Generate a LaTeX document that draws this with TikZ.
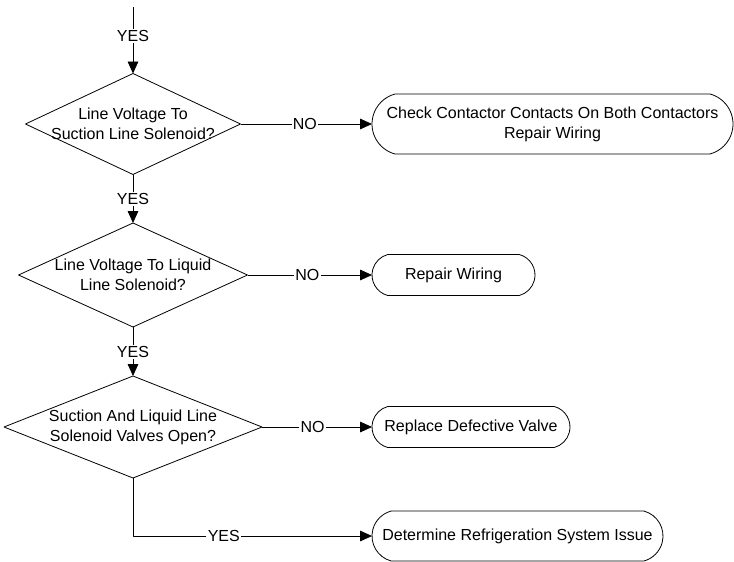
\documentclass[tikz,border=0pt]{standalone}
\usepackage{fontspec}
\setmainfont{Liberation Sans}
\usetikzlibrary{arrows.meta,shapes.geometric,shapes.misc}

\newcommand{\pxu}{.75pt}

\begin{document}
\begin{tikzpicture}[>={Triangle[length=9pt,width=8pt]}, line join=round, x=.75pt, y=-.75pt,
  every node/.style={font=\fontsize{12}{15}\selectfont},
  decision/.style={draw, diamond, inner sep=0pt, outer sep=0pt},
  action/.style={draw, rounded rectangle, rounded rectangle arc length=150,
    align=center, inner xsep=0pt, outer sep=0pt},
  lbl/.style={fill=white, inner sep=1pt},
  line width=.6pt]

\useasboundingbox (0,0) rectangle (734,561);

% Rombi
\node[decision, minimum width=215*\pxu, minimum height=101*\pxu] (volt1) at (133,124) {};
\node[align=center] (volt1txt) at (volt1) {Line Voltage To\\Suction Line Solenoid?};

\node[decision, minimum width=229*\pxu, minimum height=104*\pxu] (volt2) at (133,275) {};
\node[align=center] (volt2txt) at (volt2) {Line Voltage To Liquid\\Line Solenoid?};

\node[decision, minimum width=258*\pxu, minimum height=102*\pxu] (valves) at (133,427) {};
\node[align=center] (valvestxt) at (valves) {Suction And Liquid Line\\Solenoid Valves Open?};

% Azioni
\node[action, minimum width=361*\pxu, minimum height=60*\pxu] (contacts) at (552.5,124)
  {Check Contactor Contacts On Both Contactors\\Repair Wiring};
\node[action, minimum width=163*\pxu, minimum height=41*\pxu] (wiring) at (453.5,275) {Repair Wiring};
\node[action, minimum width=198*\pxu, minimum height=41*\pxu] (valve) at (471,427) {Replace Defective Valve};
\node[action, minimum width=291*\pxu, minimum height=50*\pxu] (refrig) at (517.5,536)
  {Determine Refrigeration System Issue};

% Frecce
\coordinate (start) at (133,7);
\draw[->] (start) -- node[lbl, pos=.44] (yes0) {YES} (volt1.north);
\draw[->] (volt1.south) -- node[lbl] (yes1) {YES} (volt2.north);
\draw[->] (volt2.south) -- node[lbl] (yes2) {YES} (valves.north);
\draw[->] (valves.south) |- node[lbl, pos=.69] (yes3) {YES} (refrig.west);

\draw[->] (volt1.east) -- node[lbl, pos=.49] (no1) {NO} (contacts.west);
\draw[->] (volt2.east) -- node[lbl, pos=.48] (no2) {NO} (wiring.west);
\draw[->] (valves.east) -- node[lbl, pos=.46] (no3) {NO} (valve.west);

\end{tikzpicture}
\end{document}
